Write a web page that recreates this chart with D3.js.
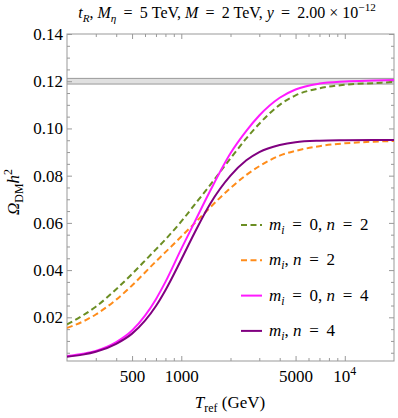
<!DOCTYPE html>
<meta charset="utf-8">
<style>
body { margin: 0; background: #fff; }
text { font-family: "Liberation Serif", serif; fill: #000; }
.axis path { display: none; }
.axis line { stroke: #999; }
.curve { fill: none; stroke-width: 2px; }
</style>
<svg width="398" height="418"></svg>
<script src="https://d3js.org/d3.v7.min.js"></script>
<script>

// T_ref in GeV
var temps = [200, 250, 300, 400, 500, 600, 700, 800, 1000, 1200, 1500,
             2000, 2500, 3000, 4000, 5000, 7000, 10000, 15000, 20000];

// Omega_DM h^2 for each case
var massless2 = [0.0170, 0.0208, 0.0245, 0.0319, 0.0384, 0.0440, 0.0488, 0.0530, 0.0606, 0.0675,
                 0.0760, 0.0873, 0.0958, 0.1020, 0.1100, 0.1140, 0.1170, 0.1185, 0.1192, 0.1197];
var massive2  = [0.0155, 0.0182, 0.0212, 0.0275, 0.0335, 0.0390, 0.0437, 0.0476, 0.0542, 0.0597,
                 0.0665, 0.0748, 0.0803, 0.0840, 0.0885, 0.0905, 0.0925, 0.0937, 0.0944, 0.0947];
var massless4 = [0.0036, 0.0046, 0.0058, 0.0095, 0.0144, 0.0207, 0.0277, 0.0350, 0.0490, 0.0600,
                 0.0735, 0.0895, 0.0990, 0.1055, 0.1130, 0.1165, 0.1190, 0.1199, 0.1203, 0.1205];
var massive4  = [0.0033, 0.0042, 0.0054, 0.0088, 0.0131, 0.0186, 0.0248, 0.0315, 0.0445, 0.0555,
                 0.0680, 0.0800, 0.0865, 0.0900, 0.0930, 0.0942, 0.0948, 0.0950, 0.0951, 0.0951];

// observed relic band
var bandLow = 0.1188, bandHigh = 0.1212;

var xMajor = [500, 1000, 5000, 10000];
var xMinor = [300, 400, 600, 700, 800, 900, 2000, 3000, 4000, 6000, 7000, 8000, 9000];
var yMajor = [0.02, 0.04, 0.06, 0.08, 0.10, 0.12, 0.14];
var yMinor = d3.range(1, 28).map(function(k) { return k * 0.005; })
    .filter(function(v) { return Math.abs(v / 0.02 - Math.round(v / 0.02)) > 1e-6; });

var eq = "\u2009=\u2009";

var series = [
  { values: massless2, color: "#6b8e23", dash: "6,3.5",
    label: [{t: "m", i: 1}, {t: "i", i: 1, sub: 1}, {t: " " + eq + " 0, "}, {t: "n", i: 1}, {t: " " + eq + " 2"}] },
  { values: massive2, color: "#ff8c1a", dash: "6,3.5",
    label: [{t: "m", i: 1}, {t: "i", i: 1, sub: 1}, {t: ", "}, {t: "n", i: 1}, {t: " " + eq + " 2"}] },
  { values: massless4, color: "#ff1aff", dash: null,
    label: [{t: "m", i: 1}, {t: "i", i: 1, sub: 1}, {t: " " + eq + " 0, "}, {t: "n", i: 1}, {t: " " + eq + " 4"}] },
  { values: massive4, color: "#800080", dash: null,
    label: [{t: "m", i: 1}, {t: "i", i: 1, sub: 1}, {t: ", "}, {t: "n", i: 1}, {t: " " + eq + " 4"}] }
];

var svg = d3.select("svg"),
    pLeft = 67, pRight = 394, pTop = 34, pBottom = 361;

var x = d3.scaleLog().domain([200, 20000]).range([pLeft, pRight]);
var y = d3.scaleLinear().domain([0.0015, 0.14]).range([pBottom, pTop]);

// writes a list of styled pieces into a text element
function rich(text, parts, size) {
  var shift = 0;
  parts.forEach(function(p) {
    var target = p.sub ? 4 : (p.sup ? -7 : 0);
    text.append("tspan")
        .attr("dy", target - shift)
        .attr("font-style", p.i ? "italic" : null)
        .attr("font-size", (p.sub || p.sup) ? size * 0.7 : size)
        .text(p.t);
    shift = target;
  });
}

svg.append("clipPath").attr("id", "plot")
  .append("rect").attr("x", pLeft).attr("y", pTop).attr("width", pRight - pLeft).attr("height", pBottom - pTop);

// band
svg.append("rect")
    .attr("x", pLeft).attr("width", pRight - pLeft)
    .attr("y", y(bandHigh)).attr("height", y(bandLow) - y(bandHigh))
    .attr("fill", "#e0e0e0");
[bandLow, bandHigh].forEach(function(v) {
  svg.append("line")
      .attr("x1", pLeft).attr("x2", pRight)
      .attr("y1", y(v)).attr("y2", y(v))
      .attr("stroke", "#999").attr("stroke-width", 1);
});

// frame
svg.append("rect")
    .attr("x", pLeft).attr("y", pTop).attr("width", pRight - pLeft).attr("height", pBottom - pTop)
    .attr("fill", "none").attr("stroke", "#999");

function addAxis(axis, tx, ty) {
  svg.append("g").attr("class", "axis").attr("transform", "translate(" + tx + "," + ty + ")").call(axis);
}

// x axes
addAxis(d3.axisBottom(x).tickValues(xMajor).tickSize(-5).tickPadding(9)
    .tickFormat(function(d) { return d === 10000 ? "" : d; }), 0, pBottom);
addAxis(d3.axisBottom(x).tickValues(xMinor).tickSize(-3).tickFormat(""), 0, pBottom);
addAxis(d3.axisTop(x).tickValues(xMajor).tickSize(-5).tickFormat(""), 0, pTop);
addAxis(d3.axisTop(x).tickValues(xMinor).tickSize(-3).tickFormat(""), 0, pTop);

// y axes
addAxis(d3.axisLeft(y).tickValues(yMajor).tickSize(-5).tickPadding(4).tickFormat(d3.format(".2f")), pLeft, 0);
addAxis(d3.axisLeft(y).tickValues(yMinor).tickSize(-3).tickFormat(""), pLeft, 0);
addAxis(d3.axisRight(y).tickValues(yMajor).tickSize(-5).tickFormat(""), pRight, 0);
addAxis(d3.axisRight(y).tickValues(yMinor).tickSize(-3).tickFormat(""), pRight, 0);

svg.selectAll(".axis text").attr("font-size", 17).attr("font-family", "Liberation Serif");

// 10^4 label
var lab = svg.append("text")
    .attr("x", x(10000)).attr("y", pBottom + 21)
    .attr("text-anchor", "middle");
rich(lab, [{t: "10"}, {t: "4", sup: 1}], 17);

// curves
var line = d3.line()
    .x(function(d) { return x(d[0]); })
    .y(function(d) { return y(d[1]); })
    .curve(d3.curveMonotoneX);

var curves = svg.append("g").attr("clip-path", "url(#plot)");
series.forEach(function(s) {
  curves.append("path")
      .attr("class", "curve")
      .attr("d", line(d3.zip(temps, s.values)))
      .attr("stroke", s.color)
      .attr("stroke-dasharray", s.dash);
});

// legend
series.forEach(function(s, k) {
  var ly = 225 + k * 35.3;
  svg.append("line")
      .attr("x1", 241).attr("x2", 262).attr("y1", ly).attr("y2", ly)
      .attr("stroke", s.color).attr("stroke-width", 2)
      .attr("stroke-dasharray", s.dash);
  var t = svg.append("text").attr("x", 269).attr("y", ly + 5);
  rich(t, s.label, 17);
});

// title
var title = svg.append("text").attr("x", 227).attr("y", 18).attr("text-anchor", "middle");
rich(title, [{t: "t", i: 1}, {t: "R", i: 1, sub: 1}, {t: ",  "}, {t: "M", i: 1}, {t: "η", i: 1, sub: 1},
             {t: " " + eq + " 5 TeV, "}, {t: "M", i: 1}, {t: " " + eq + " 2 TeV, "}, {t: "y", i: 1},
             {t: " " + eq + " 2.00 × 10"}, {t: "−12", sup: 1}], 16);

// axis labels
var xl = svg.append("text").attr("x", 230).attr("y", 408).attr("text-anchor", "middle");
rich(xl, [{t: "T", i: 1}, {t: "ref", sub: 1}, {t: " (GeV)"}], 17);

var yl = svg.append("text").attr("transform", "translate(19,192) rotate(-90)").attr("text-anchor", "middle");
rich(yl, [{t: "Ω", i: 1}, {t: "DM", sub: 1}, {t: "h", i: 1}, {t: "2", sup: 1}], 17);

</script>
